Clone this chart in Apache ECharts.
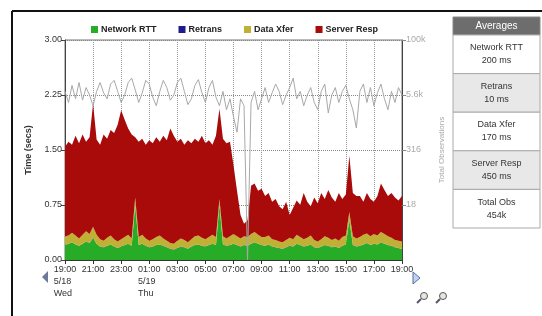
<!DOCTYPE html>
<html>
<head>
<meta charset="utf-8">
<script src="https://cdn.jsdelivr.net/npm/echarts@6/dist/echarts.min.js"></script>
<style>
  html, body { margin: 0; padding: 0; background: #fff; }
  #chart { width: 542px; height: 316px; }
</style>
</head>
<body>
<div id="chart"></div>
<script>
// 15 minute slots, 19:00 5/18 -> 19:00 5/19
const tickLabels = ['19:00', '21:00', '23:00', '01:00', '03:00', '05:00', '07:00', '09:00', '11:00', '13:00', '15:00', '17:00', '19:00'];
const dayLabels = ['5/18\nWed', '', '', '5/19\nThu', '', '', '', '', '', '', '', '', ''];

const networkRtt = [
  0.20, 0.22, 0.24, 0.21, 0.19, 0.22, 0.25, 0.23, 0.30, 0.22,
  0.18, 0.17, 0.19, 0.21, 0.18, 0.16, 0.18, 0.20, 0.22, 0.19,
  0.75, 0.20, 0.22, 0.19, 0.17, 0.18, 0.20, 0.21, 0.19, 0.17,
  0.15, 0.14, 0.16, 0.18, 0.17, 0.15, 0.18, 0.20, 0.21, 0.19,
  0.18, 0.20, 0.22, 0.20, 0.75, 0.21, 0.19, 0.20, 0.22, 0.20,
  0.18, 0.20, 0.19, 0.22, 0.24, 0.22, 0.20, 0.19, 0.21, 0.18,
  0.17, 0.16, 0.15, 0.17, 0.19, 0.18, 0.22, 0.20, 0.18, 0.19,
  0.21, 0.17, 0.16, 0.18, 0.20, 0.19, 0.17, 0.18, 0.16, 0.19,
  0.21, 0.55, 0.20, 0.18, 0.19, 0.21, 0.23, 0.20, 0.22, 0.21,
  0.24, 0.22, 0.20, 0.19, 0.17, 0.16, 0.15
];
const retrans = [
  0.003, 0.003, 0.003, 0.003, 0.003, 0.003, 0.003, 0.003, 0.003, 0.003,
  0.003, 0.003, 0.003, 0.003, 0.003, 0.003, 0.003, 0.003, 0.003, 0.003,
  0.003, 0.003, 0.003, 0.003, 0.003, 0.003, 0.003, 0.003, 0.003, 0.003,
  0.003, 0.003, 0.003, 0.003, 0.003, 0.003, 0.003, 0.003, 0.003, 0.003,
  0.003, 0.003, 0.003, 0.003, 0.003, 0.003, 0.003, 0.003, 0.003, 0.003,
  0.003, 0.003, 0.003, 0.003, 0.003, 0.003, 0.003, 0.003, 0.003, 0.003,
  0.003, 0.003, 0.003, 0.003, 0.003, 0.003, 0.003, 0.003, 0.003, 0.003,
  0.003, 0.003, 0.003, 0.003, 0.003, 0.003, 0.003, 0.003, 0.003, 0.003,
  0.003, 0.003, 0.003, 0.003, 0.003, 0.003, 0.003, 0.003, 0.003, 0.003,
  0.003, 0.003, 0.003, 0.003, 0.003, 0.003, 0.003
];
const dataXfer = [
  0.12, 0.11, 0.13, 0.12, 0.10, 0.12, 0.14, 0.12, 0.15, 0.12,
  0.10, 0.09, 0.11, 0.12, 0.10, 0.09, 0.10, 0.11, 0.12, 0.10,
  0.10, 0.11, 0.12, 0.10, 0.09, 0.10, 0.11, 0.12, 0.10, 0.09,
  0.08, 0.08, 0.10, 0.11, 0.10, 0.09, 0.10, 0.12, 0.12, 0.11,
  0.10, 0.11, 0.12, 0.11, 0.08, 0.11, 0.10, 0.12, 0.13, 0.12,
  0.11, 0.12, 0.12, 0.13, 0.14, 0.12, 0.11, 0.12, 0.12, 0.10,
  0.10, 0.09, 0.09, 0.10, 0.11, 0.10, 0.12, 0.11, 0.10, 0.11,
  0.12, 0.10, 0.09, 0.10, 0.12, 0.11, 0.10, 0.11, 0.10, 0.12,
  0.12, 0.10, 0.12, 0.11, 0.12, 0.13, 0.13, 0.12, 0.13, 0.12,
  0.14, 0.13, 0.12, 0.11, 0.10, 0.10, 0.10
];
const serverResp = [
  1.22, 1.28, 1.20, 1.36, 1.30, 1.37, 1.22, 1.32, 1.68, 1.30,
  1.29, 1.45, 1.35, 1.44, 1.45, 1.59, 1.76, 1.60, 1.45, 1.42,
  0.82, 1.30, 1.31, 1.28, 1.37, 1.31, 1.36, 1.28, 1.40, 1.37,
  1.56, 1.47, 1.35, 1.36, 1.30, 1.39, 1.31, 1.33, 1.28, 1.39,
  1.31, 1.32, 1.23, 1.38, 1.23, 1.33, 1.30, 1.29, 0.94, 0.62,
  0.32, 0.17, 0.23, 0.66, 0.66, 0.60, 0.66, 0.56, 0.58, 0.51,
  0.56, 0.48, 0.45, 0.52, 0.31, 0.43, 0.47, 0.44, 0.63, 0.49,
  0.40, 0.58, 0.52, 0.63, 0.51, 0.65, 0.58, 0.50, 0.65, 0.52,
  0.56, 0.77, 0.59, 0.58, 0.56, 0.45, 0.55, 0.51, 0.44, 0.54,
  0.66, 0.60, 0.55, 0.61, 0.58, 0.55, 0.62
];
// observation count per slot (right, log axis)
const observations = [
  6800, 3800, 9300, 4600, 10800, 4300, 8300, 5600, 3200, 6800,
  10800, 6300, 4600, 10000, 12100, 6800, 3800, 5600, 10800, 13600,
  7400, 3800, 6300, 12100, 10000, 5000, 3200, 6800, 12100, 8300,
  4300, 5600, 10800, 13600, 6800, 3400, 4600, 9300, 12600, 6300,
  3800, 8300, 12100, 5000, 3200, 6800, 2600, 4600, 1800, 800,
  4600, 3200, 1, 3800, 6800, 2600, 4600, 8300, 3800, 6300,
  10000, 6800, 3400, 5600, 8300, 13600, 4600, 6800, 3200, 5600,
  8300, 3800, 2600, 6800, 10000, 2200, 5600, 8300, 3800, 6800,
  9300, 4600, 2600, 1000, 6800, 10000, 3800, 8300, 3200, 6300,
  10000, 4600, 2600, 6800, 3800, 8300, 5600
];

const avgNames = ['Network RTT', 'Retrans', 'Data Xfer', 'Server Resp', 'Total Obs'];
const avgValues = ['200 ms', '10 ms', '170 ms', '450 ms', '454k'];

const categories = [];
for (let i = 0; i < networkRtt.length; i++) {
  const mins = 19 * 60 + i * 15;
  const h = Math.floor(mins / 60) % 24, m = mins % 60;
  categories.push((h < 10 ? '0' : '') + h + ':' + (m < 10 ? '0' : '') + m);
}

const font = 'Liberation Sans, Arial, sans-serif';
const chart = echarts.init(document.getElementById('chart'));

function stackArea(name, data, color) {
  return {
    name: name, type: 'line', stack: 'time', data: data,
    symbol: 'none', smooth: false,
    lineStyle: { width: 0 },
    itemStyle: { color: color },
    areaStyle: { color: color, opacity: 1 }
  };
}

// averages table drawn with graphic elements
const tableX = 453, tableW = 87, headY = 17, headH = 18, rowH = 38.6;
const tableGraphics = [
  { type: 'rect', shape: { x: tableX, y: headY, width: tableW, height: headH },
    style: { fill: '#6d6d6d', stroke: '#888' } },
  { type: 'text', x: tableX + tableW / 2, y: headY + headH / 2,
    style: { text: 'Averages', fill: '#fff', font: '10px ' + font, align: 'center', verticalAlign: 'middle' } }
];
avgNames.forEach(function (n, i) {
  const y = headY + headH + i * rowH;
  tableGraphics.push({ type: 'rect', shape: { x: tableX, y: y, width: tableW, height: rowH },
    style: { fill: i % 2 ? '#e8e8e8' : '#fff', stroke: '#aaa' } });
  tableGraphics.push({ type: 'text', x: tableX + tableW / 2, y: y + rowH / 2,
    style: { text: n + '\n' + avgValues[i], fill: '#333', font: '9px ' + font,
      lineHeight: 13, align: 'center', verticalAlign: 'middle' } });
});

function magnifier(cx, cy) {
  return [
    { type: 'line', shape: { x1: cx - 3, y1: cy + 3, x2: cx - 7, y2: cy + 7 }, style: { stroke: '#556', lineWidth: 2 } },
    { type: 'circle', shape: { cx: cx, cy: cy, r: 3.5 }, style: { fill: '#e4e8d8', stroke: '#556', lineWidth: 1 } }
  ];
}

chart.setOption({
  animation: false,
  textStyle: { fontFamily: font },
  legend: {
    data: ['Network RTT', 'Retrans', 'Data Xfer', 'Server Resp'],
    left: 86, top: 20,
    icon: 'rect', itemWidth: 7, itemHeight: 7, itemGap: 22,
    textStyle: { fontSize: 9, fontWeight: 'bold', color: '#222', padding: [0, 0, 0, -2] }
  },
  grid: {
    left: 65, right: 140, top: 40, bottom: 56,
    show: true, borderColor: '#777', borderWidth: 1, backgroundColor: '#fff'
  },
  xAxis: {
    type: 'category', data: categories, boundaryGap: false,
    axisLine: { lineStyle: { color: '#333' } },
    axisTick: { interval: function (i) { return i % 8 === 0; }, length: 4, lineStyle: { color: '#333' } },
    axisLabel: {
      interval: function (i) { return i % 8 === 0; },
      fontSize: 9, color: '#333', lineHeight: 12, margin: 4,
      formatter: function (v, i) {
        const k = i / 8;
        return dayLabels[k] ? '{t|' + tickLabels[k] + '}\n{d|' + dayLabels[k].replace('\n', '}\n{d|') + '}' : '{t|' + tickLabels[k] + '}';
      },
      rich: { t: { fontSize: 9, color: '#333', align: 'center' }, d: { fontSize: 9, color: '#333', align: 'left' } }
    },
    splitLine: { show: true, interval: function (i) { return i % 8 === 0; }, lineStyle: { color: '#999', type: 'dotted' } }
  },
  yAxis: [
    {
      type: 'value', min: 0, max: 3, interval: 0.75,
      name: 'Time (secs)', nameLocation: 'middle', nameGap: 32, nameRotate: 90,
      nameTextStyle: { fontSize: 9, fontWeight: 'bold', color: '#333' },
      axisLine: { show: true, lineStyle: { color: '#444' } },
      axisTick: { show: true, length: 4, lineStyle: { color: '#444' } },
      axisLabel: { fontSize: 9, color: '#333', margin: 3, formatter: function (v) { return v.toFixed(2); } },
      splitLine: { show: true, lineStyle: { color: '#888', type: 'dotted' } }
    },
    {
      type: 'log', logBase: Math.pow(10, 1.25), min: 1, max: 100000,
      name: 'Total Observations', nameLocation: 'middle', nameGap: 36, nameRotate: 90,
      nameTextStyle: { fontSize: 8, color: '#aaa' },
      axisLine: { show: true, lineStyle: { color: '#444' } },
      axisTick: { show: true, length: 4, lineStyle: { color: '#888' } },
      axisLabel: {
        fontSize: 9, color: '#aaa', margin: 4, showMinLabel: false,
        formatter: function (v) {
          if (v >= 1000) return (v / 1000).toFixed(v >= 10000 ? 0 : 1) + 'k';
          return String(Math.round(v));
        }
      },
      splitLine: { show: false }
    }
  ],
  series: [
    stackArea('Network RTT', networkRtt, '#27ac27'),
    stackArea('Retrans', retrans, '#1c1c8e'),
    stackArea('Data Xfer', dataXfer, '#c0b033'),
    stackArea('Server Resp', serverResp, '#a90a0a'),
    {
      name: 'Observations', type: 'line', yAxisIndex: 1, data: observations,
      symbol: 'none', lineStyle: { color: '#a8a8a8', width: 1 }, itemStyle: { color: '#a8a8a8' }, z: 5
    }
  ],
  graphic: [
    { type: 'line', shape: { x1: 12, y1: 11, x2: 542, y2: 11 }, style: { stroke: '#111', lineWidth: 2 } },
    { type: 'line', shape: { x1: 12, y1: 11, x2: 12, y2: 316 }, style: { stroke: '#111', lineWidth: 2 } },
    { type: 'polygon', shape: { points: [[48, 271], [48, 283], [42, 277]] }, style: { fill: '#6a7a9a' } },
    { type: 'polygon', shape: { points: [[413, 272], [413, 284], [420, 278]] }, style: { fill: '#c4d2ee', stroke: '#5070a0' } }
  ].concat(magnifier(424, 296), magnifier(443, 296), tableGraphics)
});
</script>
</body>
</html>
